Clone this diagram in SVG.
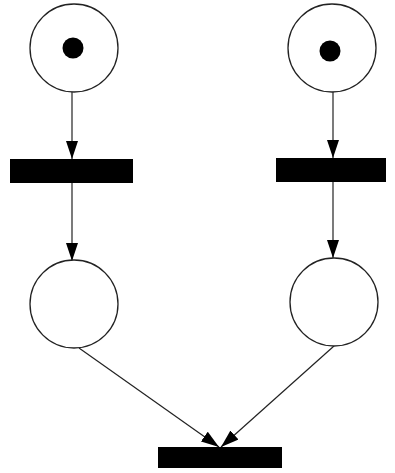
<svg xmlns="http://www.w3.org/2000/svg" width="395" height="473" viewBox="0 0 395 473">
  <style>
    .place { fill: #ffffff; stroke: #222222; stroke-width: 1.3; }
    .token { fill: #000000; }
    .transition { fill: #000000; }
    .arc { stroke: #222222; stroke-width: 1.2; fill: none; marker-end: url(#arrow); }
  </style>
  <defs>
    <marker id="arrow" viewBox="0 0 18 12" refX="18" refY="6" markerWidth="18" markerHeight="12" markerUnits="userSpaceOnUse" orient="auto">
      <path d="M0,0 L18,6 L0,12 z" fill="#000000"/>
    </marker>
  </defs>
  <rect width="395" height="473" fill="#ffffff"/>

  <g id="connectors">
    <line class="arc" x1="72" y1="92" x2="72" y2="159"/>
    <line class="arc" x1="72" y1="183" x2="72" y2="261"/>
    <line class="arc" x1="333" y1="92" x2="333" y2="158"/>
    <line class="arc" x1="333" y1="182" x2="333" y2="258"/>
    <line class="arc" x1="79" y1="348" x2="219" y2="447"/>
    <line class="arc" x1="334" y1="346" x2="221" y2="447"/>
  </g>

  <g id="p1">
    <circle class="place" cx="74" cy="48" r="44"/>
    <circle class="token" cx="73" cy="48" r="10.5"/>
  </g>
  <g id="p2">
    <circle class="place" cx="332" cy="48" r="44"/>
    <circle class="token" cx="330" cy="51" r="10.5"/>
  </g>
  <g id="t1">
    <rect class="transition" x="10" y="159" width="123" height="24"/>
  </g>
  <g id="t2">
    <rect class="transition" x="276" y="158" width="110" height="24"/>
  </g>
  <g id="p3">
    <circle class="place" cx="74" cy="304" r="44"/>
  </g>
  <g id="p4">
    <circle class="place" cx="334" cy="302" r="44"/>
  </g>
  <g id="t3">
    <rect class="transition" x="158" y="447" width="124" height="21"/>
  </g>
</svg>
